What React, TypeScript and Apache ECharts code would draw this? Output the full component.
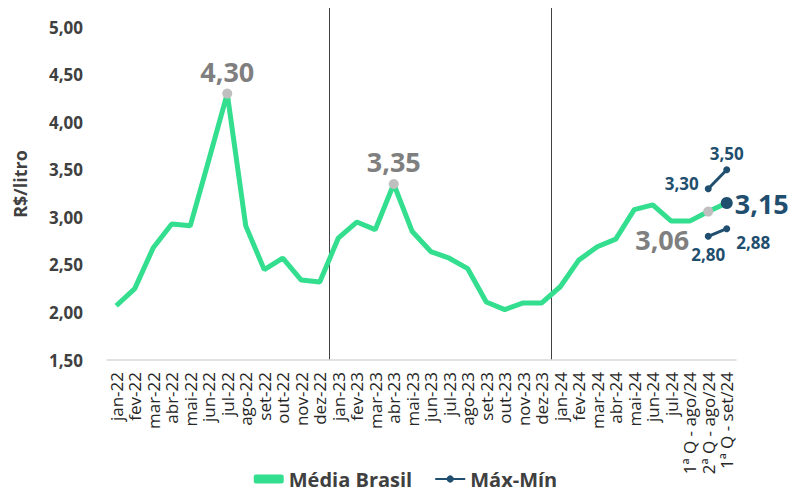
import React, { useEffect, useRef } from "react";
import * as echarts from "echarts";

const categories = [
  "jan-22", "fev-22", "mar-22", "abr-22", "mai-22", "jun-22", "jul-22", "ago-22", "set-22", "out-22", "nov-22", "dez-22",
  "jan-23", "fev-23", "mar-23", "abr-23", "mai-23", "jun-23", "jul-23", "ago-23", "set-23", "out-23", "nov-23", "dez-23",
  "jan-24", "fev-24", "mar-24", "abr-24", "mai-24", "jun-24", "jul-24",
  "1ª Q - ago/24", "2ª Q - ago/24", "1ª Q - set/24",
];

const mediaBrasil = [
  2.07, 2.25, 2.68, 2.93, 2.91, 3.6, 4.3, 2.91, 2.45, 2.57, 2.34, 2.32,
  2.78, 2.95, 2.87, 3.35, 2.85, 2.64, 2.57, 2.46, 2.11, 2.03, 2.1, 2.1,
  2.27, 2.55, 2.69, 2.77, 3.08, 3.13, 2.96,
  2.96, 3.06, 3.15,
];

const maxValues: (number | null)[] = categories.map((_, i) => (i === 32 ? 3.3 : i === 33 ? 3.5 : null));
const minValues: (number | null)[] = categories.map((_, i) => (i === 32 ? 2.8 : i === 33 ? 2.88 : null));

const yTicks = { min: 1.5, max: 5.2, interval: 0.5, labelMax: 5.0 };
// year boundaries: split lines before these category indices
const dividerIndices = [12, 24];

const GREEN = "#33DE8E";
const BLUE = "#1F4E6E";
const GRAY = "#7F7F7F";
const FONT = "Open Sans";

const fmt = (v: number) => v.toFixed(2).replace(".", ",");

export default function App() {
  const ref = useRef<HTMLDivElement>(null);
  useEffect(() => {
    if (!ref.current) return;
    const chart = echarts.init(ref.current, undefined, { renderer: "svg" });

    const grayLabel = (pos: any, extra: any = {}) => ({
      show: true,
      position: pos,
      formatter: (p: any) => fmt(p.value),
      color: GRAY,
      fontSize: 27,
      fontWeight: "bold",
      fontFamily: FONT,
      ...extra,
    });

    const mediaData = mediaBrasil.map((v, i) => {
      if (i === 6 || i === 15) {
        return {
          value: v,
          symbol: "circle",
          symbolSize: 10,
          itemStyle: { color: "#BFBFBF" },
          label: grayLabel("top", { distance: 4 }),
        };
      }
      if (i === 32) {
        return {
          value: v,
          symbol: "circle",
          symbolSize: 10,
          itemStyle: { color: "#BFBFBF" },
          label: grayLabel("left", { distance: 14, offset: [0, 28] }),
        };
      }
      if (i === 33) {
        return {
          value: v,
          symbol: "circle",
          symbolSize: 12,
          itemStyle: { color: BLUE },
          label: {
            show: true,
            position: "right",
            distance: 2,
            formatter: (p: any) => fmt(p.value),
            color: BLUE,
            fontSize: 27,
            fontWeight: "bold",
            fontFamily: FONT,
          },
        };
      }
      return { value: v };
    });

    const blueLabel = (pos: any, extra: any = {}) => ({
      show: true,
      position: pos,
      formatter: (p: any) => (p.value == null ? "" : fmt(p.value)),
      color: BLUE,
      fontSize: 17,
      fontWeight: "bold",
      fontFamily: FONT,
      ...extra,
    });

    const mkMaxMin = (vals: (number | null)[], labels: any[]) =>
      vals.map((v, i) => {
        if (v == null) return null;
        return { value: v, label: labels[i === 32 ? 0 : 1] };
      });

    chart.setOption({
      animation: false,
      textStyle: { fontFamily: FONT },
      grid: { left: 99, right: 67, top: 0, bottom: 137, outerBoundsMode: "none", containLabel: false },
      legend: {
        top: 461,
        left: "center",
        padding: 0,
        itemWidth: 30,
        itemHeight: 9,
        itemGap: 22,
        textStyle: { fontSize: 20, fontWeight: "bold", color: "#404040", fontFamily: FONT },
        data: [{ name: "Média Brasil", icon: "roundRect" }, { name: "Máx-Mín" }],
      },
      xAxis: {
        type: "category",
        data: categories,
        boundaryGap: true,
        axisTick: { show: false },
        axisLine: { lineStyle: { color: "#D9D9D9", width: 1.5 } },
        splitLine: {
          show: true,
          showMaxLine: false,
          interval: (index: number) => dividerIndices.indexOf(index) >= 0,
          lineStyle: { color: "#404040", width: 1, type: "solid" },
        },
        axisLabel: {
          interval: 0,
          rotate: 90,
          fontSize: 17,
          color: "#262626",
          fontFamily: FONT,
          margin: 12,
        },
      },
      yAxis: {
        type: "value",
        min: yTicks.min,
        max: yTicks.max,
        interval: yTicks.interval,
        name: "R$/litro",
        nameLocation: "middle",
        nameGap: 78,
        nameTextStyle: { fontSize: 18, fontWeight: "bold", color: "#404040", fontFamily: FONT },
        splitLine: { show: false },
        axisLine: { show: false },
        axisTick: { show: false },
        axisLabel: {
          fontSize: 17,
          fontWeight: "bold",
          color: "#404040",
          fontFamily: FONT,
          margin: 24,
          formatter: (v: number) => (v > yTicks.labelMax + 0.001 ? "" : fmt(v)),
        },
      },
      series: [
        {
          name: "Média Brasil",
          type: "line",
          data: mediaData,
          symbol: "none",
          lineStyle: { color: GREEN, width: 5 },
          itemStyle: { color: GREEN },
          z: 3,
        },
        {
          name: "Máx-Mín",
          type: "line",
          data: mkMaxMin(maxValues, [
            blueLabel("left", { distance: 6, offset: [0, -5] }),
            blueLabel("top", { distance: 4 }),
          ]),
          symbol: "circle",
          symbolSize: 7,
          lineStyle: { color: BLUE, width: 3 },
          itemStyle: { color: BLUE },
          z: 4,
        },
        {
          name: "Máx-Mín",
          type: "line",
          data: mkMaxMin(minValues, [
            blueLabel("bottom", { distance: 6 }),
            blueLabel("right", { distance: 6, offset: [0, 14] }),
          ]),
          symbol: "circle",
          symbolSize: 7,
          lineStyle: { color: BLUE, width: 3 },
          itemStyle: { color: BLUE },
          z: 4,
        },
      ],
    });
    return () => chart.dispose();
  }, []);
  return (
    <div style={{ width: 795, height: 481 }}>
      <div ref={ref} style={{ width: 795, height: 489 }} />
    </div>
  );
}
